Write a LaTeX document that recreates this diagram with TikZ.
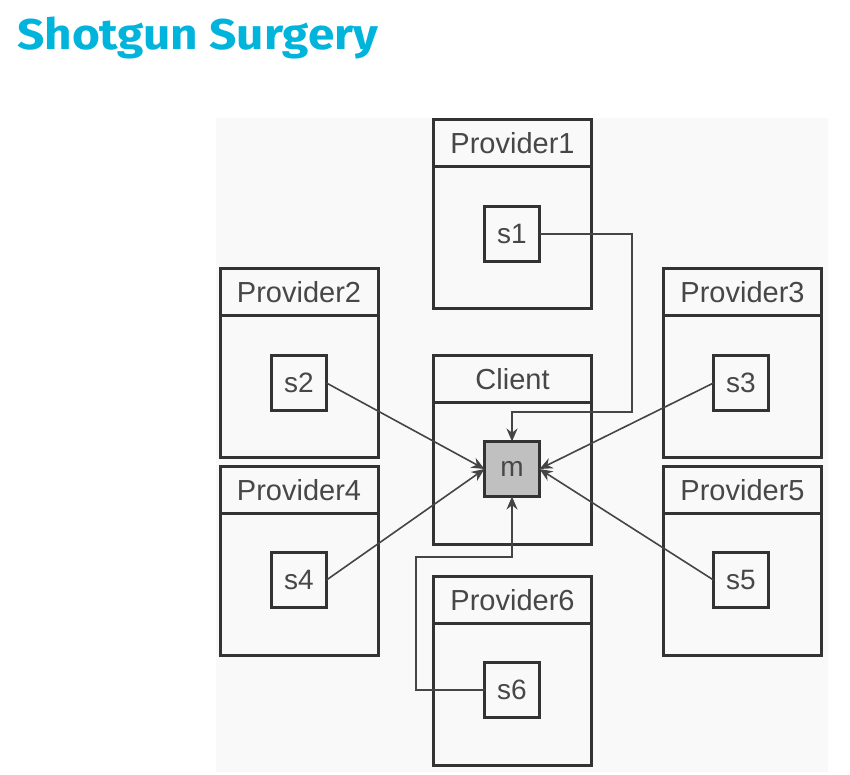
\documentclass[tikz,border=0pt]{standalone}
\usepackage{fontspec}
\setmainfont{Liberation Sans}
\newfontfamily\titlefont{Fira Sans}
\usetikzlibrary{arrows.meta}
\usetikzlibrary{positioning}
\definecolor{titleblue}{HTML}{00B4DC}
\definecolor{boxline}{HTML}{333333}
\definecolor{wireline}{HTML}{454545}
\definecolor{panel}{HTML}{F9F9F9}
\definecolor{methodfill}{HTML}{C0C0C0}
\tikzset{
	head/.style={draw=boxline, line width=3pt, fill=panel, minimum width=158pt, minimum height=47pt, outer sep=0pt, inner sep=0pt, text=boxline!90, font=\fontsize{29}{30}\selectfont},
	body/.style={draw=boxline, line width=3pt, fill=panel, minimum width=158pt, minimum height=142pt, outer sep=0pt},
	service/.style={draw=boxline, line width=3pt, minimum width=55pt, minimum height=55pt, outer sep=0pt, inner sep=0pt, text=boxline!90, font=\fontsize{28}{29}\selectfont},
	wire/.style={draw=wireline, line width=1.6pt, -{Stealth[length=13pt,width=11pt]}},
}
\begin{document}
\begin{tikzpicture}[x=1pt, y=-1pt]
		\useasboundingbox (0,0) rectangle (850,775);
		\fill[white] (0,0) rectangle (850,775);
		\fill[panel] (216,118) rectangle (828,772);
		\node (title) [anchor=base west, text=titleblue, font=\titlefont\bfseries\fontsize{43}{45}\selectfont, inner sep=0pt] at (17,50) {\scalebox{1.11}[1]{Shotgun Surgery}};

		\begin{scope}
			\node (p1 head) [head] at (512.5,143) {Provider1};
			\node (p1 body) [body, below=0pt of p1 head] {};
			\node (p2 head) [head] at (299,292) {Provider2};
			\node (p2 body) [body, below=0pt of p2 head] {};
			\node (p3 head) [head] at (742.5,292) {Provider3};
			\node (p3 body) [body, below=0pt of p3 head] {};
			\node (client head) [head] at (512.5,379) {Client};
			\node (client body) [body, below=0pt of client head] {};
			\node (p4 head) [head] at (299,490) {Provider4};
			\node (p4 body) [body, below=0pt of p4 head] {};
			\node (p5 head) [head] at (742.5,490) {Provider5};
			\node (p5 body) [body, below=0pt of p5 head] {};
			\node (p6 head) [head] at (512.5,600) {Provider6};
			\node (p6 body) [body, below=0pt of p6 head] {};
		\end{scope}

		\begin{scope}
			\node (s1) [service] at (512,234) {s1};
			\node (s2) [service] at (299,383) {s2};
			\node (s3) [service] at (741,383) {s3};
			\node (m) [service, fill=methodfill] at (512,469) {m};
			\node (s4) [service] at (299,580) {s4};
			\node (s5) [service] at (741,580) {s5};
			\node (s6) [service] at (512,690) {s6};

			\coordinate (bend1) at (632,412);
			\coordinate (bend6) at (416,557);
		\end{scope}

		\draw[wire] (s1.east) -- (s1.east-|bend1) -- (bend1) -- (bend1-|m.north) -- (m.north);
		\draw[wire] (s2.east) -- (m.west);
		\draw[wire] (s3.west) -- (m.east);
		\draw[wire] (s4.east) -- (m.west);
		\draw[wire] (s5.west) -- (m.east);
		\draw[wire] (s6.west) -- (s6.west-|bend6) -- (bend6) -- (bend6-|m.south) -- (m.south);
	\end{tikzpicture}
\end{document}
